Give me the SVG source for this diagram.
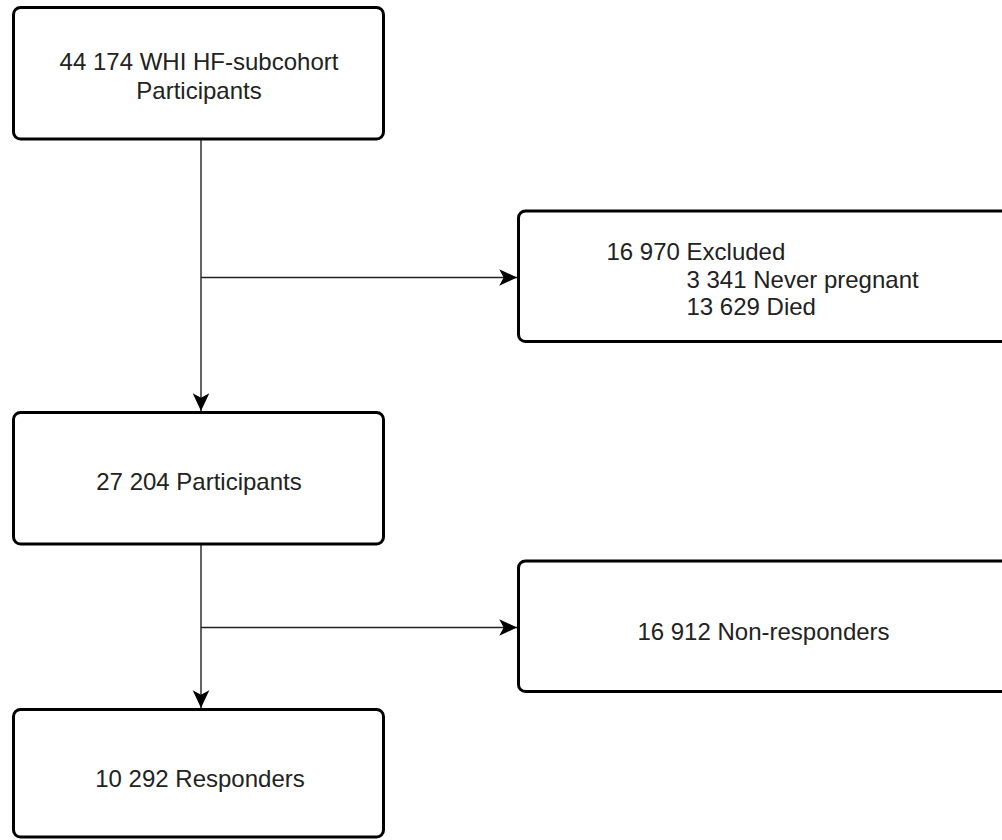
<svg xmlns="http://www.w3.org/2000/svg" width="1002" height="840" viewBox="0 0 1002 840">
<style>
.box{fill:#fff;stroke:#000;stroke-width:3}
.t{font-family:"Liberation Sans",Arial,sans-serif;font-size:24px;fill:#222}
.c{text-anchor:middle}
.ln{fill:none;stroke:#222;stroke-width:1.4}
</style>
<defs>
<marker id="arr" markerUnits="userSpaceOnUse" markerWidth="20" markerHeight="20" viewBox="-17 -9 18 18" refX="0" refY="0" orient="auto">
<path d="M-16,-7.5 L0,0 L-16,7.5 L-12,0 Z" fill="#000"/>
</marker>
</defs>
<rect width="1002" height="840" fill="#fff"/>
<g id="connectors">
<path class="ln" d="M201,139 V411" marker-end="url(#arr)"/>
<path class="ln" d="M201,277.5 H517" marker-end="url(#arr)"/>
<path class="ln" d="M201,544 V708" marker-end="url(#arr)"/>
<path class="ln" d="M201,627.5 H517" marker-end="url(#arr)"/>
</g>
<g id="n1">
<rect class="box" x="13.5" y="7.5" width="370" height="131.5" rx="7"/>
<text class="t c" x="199" y="69.5">44 174 WHI HF-subcohort</text>
<text class="t c" x="199" y="98.5">Participants</text>
</g>
<g id="n2">
<rect class="box" x="518.5" y="211" width="492" height="130.5" rx="7"/>
<text class="t" x="606.5" y="259.5">16 970 Excluded</text>
<text class="t" x="686.5" y="287.5">3 341 Never pregnant</text>
<text class="t" x="686.5" y="314.5">13 629 Died</text>
</g>
<g id="n3">
<rect class="box" x="13.5" y="412.5" width="370" height="131.5" rx="7"/>
<text class="t c" x="199" y="490">27 204 Participants</text>
</g>
<g id="n4">
<rect class="box" x="518.5" y="561" width="492" height="130.5" rx="7"/>
<text class="t c" x="763.5" y="639.5">16 912 Non-responders</text>
</g>
<g id="n5">
<rect class="box" x="13.5" y="709.5" width="370" height="127.5" rx="7"/>
<text class="t c" x="200" y="787">10 292 Responders</text>
</g>
</svg>
